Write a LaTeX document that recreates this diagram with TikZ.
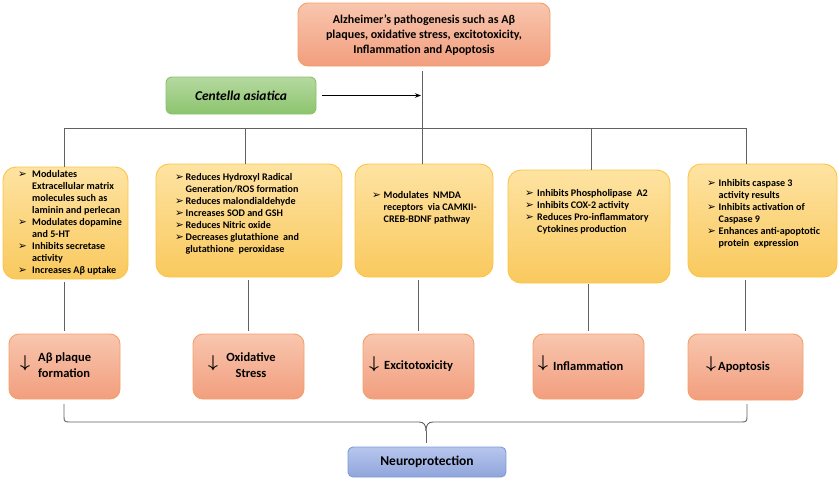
\documentclass[tikz,border=0pt]{standalone}
\usepackage{fontspec}
\setmainfont{Carlito}
\newfontfamily\dejavu{DejaVu Sans}
\usetikzlibrary{calc,arrows.meta}
\definecolor{salT}{HTML}{F8C6AE}
\definecolor{salB}{HTML}{F29E7E}
\definecolor{salD}{HTML}{F4A06A}
\definecolor{yelT}{HTML}{FEE3A2}
\definecolor{yelB}{HTML}{F9C95E}
\definecolor{yelD}{HTML}{FCC544}
\definecolor{grnT}{HTML}{B5D9A0}
\definecolor{grnB}{HTML}{8CC46E}
\definecolor{grnD}{HTML}{8CC06A}
\definecolor{bluT}{HTML}{B8C6EE}
\definecolor{bluB}{HTML}{8FA5DB}
\definecolor{bluD}{HTML}{7D9AD6}
\newlength\hind
\newcommand\bul{{\dejavu\fontsize{10.5}{10.5}\selectfont ➢}}
\newcommand\itm[1]{\par\noindent\hangindent=\hind\hangafter=1\makebox[\hind][l]{\bul}#1}
\newcommand\ytext[2]{\parbox[t]{160pt}{\fontsize{10.1}{12}\selectfont\bfseries\setlength\hind{#1}\rightskip=0pt plus 1fil\parfillskip=0pt plus 1fil #2}}
\newcommand\dn{{\fontsize{17}{17}\selectfont$\boldsymbol{\downarrow}$}}
\usepackage{amsmath}
\tikzset{
  box/.style={rectangle, inner sep=0pt, outer sep=0pt, anchor=north west, line width=0.9pt},
  salbox/.style={box, rounded corners=10pt, draw=salD, top color=salT, bottom color=salB},
  yelbox/.style={box, rounded corners=13pt, draw=yelD, top color=yelT, bottom color=yelB},
  grnbox/.style={box, rounded corners=6pt, draw=grnD, top color=grnT, bottom color=grnB},
  blubox/.style={box, rounded corners=5pt, draw=bluD, top color=bluT, bottom color=bluB},
  ln/.style={draw=black!62, line width=0.9pt},
  stxt/.style={font=\fontsize{12.5}{16}\selectfont\bfseries, inner sep=0pt},
  ytx/.style={inner sep=0pt, anchor=base west},
}
\begin{document}
\begin{tikzpicture}[x=1pt,y=-1pt]
\useasboundingbox (0,0) rectangle (840,480);
% boxes
\node[salbox, minimum width=252pt, minimum height=63pt] (top) at (298,3) {};
\node[font=\fontsize{12}{15}\selectfont\bfseries, align=center, inner sep=0pt] (toptxt) at (424,35)
  {Alzheimer’s pathogenesis such as Aβ\\plaques, oxidative stress, excitotoxicity,\\Inflammation and Apoptosis};
\node[grnbox, minimum width=150pt, minimum height=37pt] (green) at (166,77) {};
\node[font=\fontsize{13.5}{15}\selectfont\bfseries\itshape, inner sep=0pt] (greentxt) at (241,96) {Centella asiatica};

\node[yelbox, minimum width=125pt, minimum height=112pt] (y1) at (3,167) {};
\node[yelbox, minimum width=186pt, minimum height=113pt] (y2) at (156,164) {};
\node[yelbox, minimum width=138pt, minimum height=113pt] (y3) at (355,164) {};
\node[yelbox, minimum width=162pt, minimum height=113pt] (y4) at (508,170) {};
\node[yelbox, minimum width=149pt, minimum height=113pt] (y5) at (688,164) {};

\node[ytx] (t1) at (18,177.5) {\ytext{14pt}{%
\itm{Modulates\newline Extracellular matrix\newline molecules such as\newline laminin and perlecan}
\itm{Modulates dopamine\newline and 5-HT}
\itm{Inhibits secretase\newline activity}
\itm{Increases Aβ uptake}}};
\node[ytx] (t2) at (175,180.5) {\ytext{10.5pt}{%
\itm{Reduces Hydroxyl Radical\newline Generation/ROS formation}
\itm{Reduces malondialdehyde}
\itm{Increases SOD and GSH}
\itm{Reduces Nitric oxide}
\itm{Decreases glutathione\ \ and\newline glutathione\ \ peroxidase}}};
\node[ytx] (t3) at (372,198.5) {\ytext{11.5pt}{%
\itm{Modulates\ \ NMDA\newline receptors\ \ via CAMKII-\newline CREB-BDNF pathway}}};
\node[ytx] (t4) at (525,196.5) {\ytext{12pt}{%
\itm{Inhibits Phospholipase\ \ A2}
\itm{Inhibits COX-2 activity}
\itm{Reduces Pro-inflammatory\newline Cytokines production}}};
\node[ytx] (t5) at (707,186.5) {\ytext{11.5pt}{%
\itm{Inhibits caspase 3\newline activity results}
\itm{Inhibits activation of\newline Caspase 9}
\itm{Enhances anti-apoptotic\newline protein\ \ expression}}};

\node[salbox, minimum width=111pt, minimum height=65pt] (s1) at (9,334) {};
\node[salbox, minimum width=111pt, minimum height=65pt] (s2) at (193,334) {};
\node[salbox, minimum width=111pt, minimum height=65pt] (s3) at (363,334) {};
\node[salbox, minimum width=111pt, minimum height=65pt] (s4) at (533,334) {};
\node[salbox, minimum width=115pt, minimum height=66pt] (s5) at (688,334) {};

\node[inner sep=0pt] (a1) at (25,363) {\dn};
\node[stxt, anchor=west, align=left] (u1) at (38,365) {Aβ plaque\\formation};
\node[inner sep=0pt] (a2) at (213,363) {\dn};
\node[stxt, align=center] (u2) at (251,365) {Oxidative\\Stress};
\node[inner sep=0pt] (a3) at (374,364) {\dn};
\node[stxt, anchor=west] (u3) at (384,366) {Excitotoxicity};
\node[inner sep=0pt] (a4) at (543,363) {\dn};
\node[stxt, anchor=west] (u4) at (553,366) {Inflammation};
\node[inner sep=0pt] (a5) at (711,364) {\dn};
\node[stxt, anchor=west] (u5) at (718,367) {Apoptosis};

\node[blubox, minimum width=158pt, minimum height=30pt] (np) at (348,447) {};
\node[stxt, font=\fontsize{13.5}{16}\selectfont\bfseries] (nptxt) at (427,462) {Neuroprotection};

% connectors
\coordinate (hub) at (422,128);
\coordinate (bl) at (64,128);
\coordinate (br) at (747,128);
\draw[ln, shorten <=5pt] (hub |- top.south) -- (hub);
\draw[ln, -{Stealth[length=6pt,width=4.5pt]}, line width=0.8pt, draw=black, shorten <=6pt, shorten >=1pt] (green.east) -- (green.east -| hub);
\draw[ln] (bl) -- (br);
\coordinate (d1) at (64,128);
\coordinate (d2) at (245,128);
\coordinate (d3) at (422,128);
\coordinate (d4) at (591,128);
\coordinate (d5) at (746,128);
\draw[ln] (d1) -- (d1 |- y1.north);
\draw[ln] (d2) -- (d2 |- y2.north);
\draw[ln] (d3) -- (d3 |- y3.north);
\draw[ln] (d4) -- (d4 |- y4.north);
\draw[ln] (d5) -- (d5 |- y5.north);
\draw[ln, shorten <=3pt, shorten >=3pt] (s1.north |- y1.south) -- (s1.north);
\draw[ln, shorten <=3pt, shorten >=3pt] (s2.north |- y2.south) -- (s2.north);
\draw[ln, shorten <=3pt, shorten >=3pt] (s3.north |- y3.south) -- (s3.north);
\draw[ln, shorten <=1pt, shorten >=3pt] (s4.north |- y4.south) -- (s4.north);
\draw[ln, shorten <=3pt, shorten >=3pt] (s5.north |- y5.south) -- (s5.north);
% brace
\coordinate (bra) at (64,404);
\coordinate (brb) at (747,404);
\coordinate (bm) at (426,431);
\draw[ln] (bra) -- (64,417) .. controls (64,421) and (65,422) .. (69,422) -- (419,422)
  .. controls (424,422) and (426,425) .. (bm);
\draw[ln] (bm) .. controls (426,425) and (428,422) .. (433,422) -- (742,422)
  .. controls (746,422) and (747,421) .. (747,417) -- (brb);
\draw[ln, shorten >=4pt] (bm) -- (np.north -| bm);
\end{tikzpicture}
\end{document}
